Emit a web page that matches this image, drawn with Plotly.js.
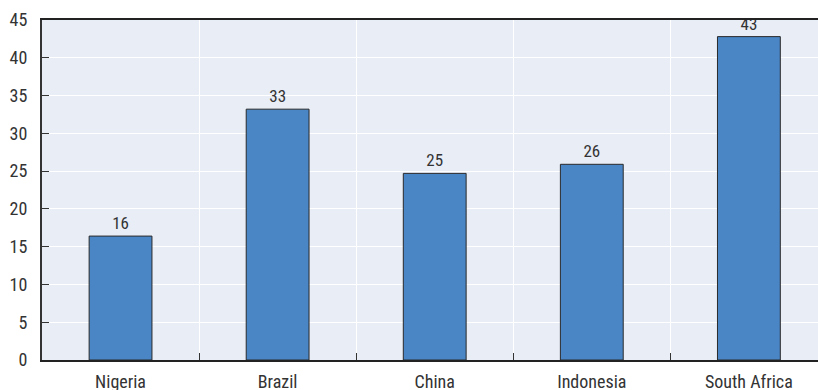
<!DOCTYPE html>
<html>
<head>
<meta charset="utf-8">
<script src="https://cdn.plot.ly/plotly-3.0.1.min.js"></script>
<style>html,body{margin:0;padding:0;background:#fff;}#chart{width:818px;height:390px;}</style>
</head>
<body>
<div id="chart"></div>
<script>
const countries = ["Nigeria", "Brazil", "China", "Indonesia", "South Africa"];
const values = [16.4, 33.2, 24.7, 25.9, 42.8];
const labels = ["16", "33", "25", "26", "43"];
const yTicks = [0, 5, 10, 15, 20, 25, 30, 35, 40, 45];

const font = "'Liberation Sans Narrow', 'Roboto Condensed', 'Arial Narrow', Roboto, sans-serif";

const trace = {
  type: "bar",
  x: countries,
  y: values,
  text: labels,
  textposition: "outside",
  cliponaxis: false,
  textfont: {family: font, size: 17, color: "#333"},
  width: 0.4,
  marker: {color: "#4a86c6", line: {color: "#2a2a2a", width: 1}},
  hoverinfo: "none"
};

const layout = {
  width: 818, height: 390,
  margin: {l: 42, r: 0, t: 20, b: 30},
  paper_bgcolor: "#ffffff",
  plot_bgcolor: "#e9edf6",
  showlegend: false,
  bargap: 0.6,
  font: {family: font, size: 18, color: "#333"},
  xaxis: {
    type: "category",
    range: [-0.5, 4.44],
    tickson: "boundaries",
    ticks: "inside",
    ticklen: 7,
    tickcolor: "#333",
    showgrid: true,
    gridcolor: "#ffffff",
    gridwidth: 1,
    showline: true,
    linecolor: "#222",
    linewidth: 2,
    mirror: true,
    ticklabelstandoff: 4,
    tickfont: {family: font, size: 18, color: "#333"},
    fixedrange: true
  },
  yaxis: {
    range: [0, 45],
    tickvals: yTicks,
    ticktext: yTicks.map(String),
    ticks: "inside",
    ticklen: 7,
    tickcolor: "#333",
    showgrid: true,
    gridcolor: "#ffffff",
    gridwidth: 1,
    showline: true,
    linecolor: "#333",
    linewidth: 2,
    zeroline: false,
    ticklabelstandoff: 9,
    tickfont: {family: font, size: 18, color: "#333"},
    fixedrange: true
  }
};

Plotly.newPlot("chart", [trace], layout, {staticPlot: true, displayModeBar: false});
</script>
</body>
</html>
